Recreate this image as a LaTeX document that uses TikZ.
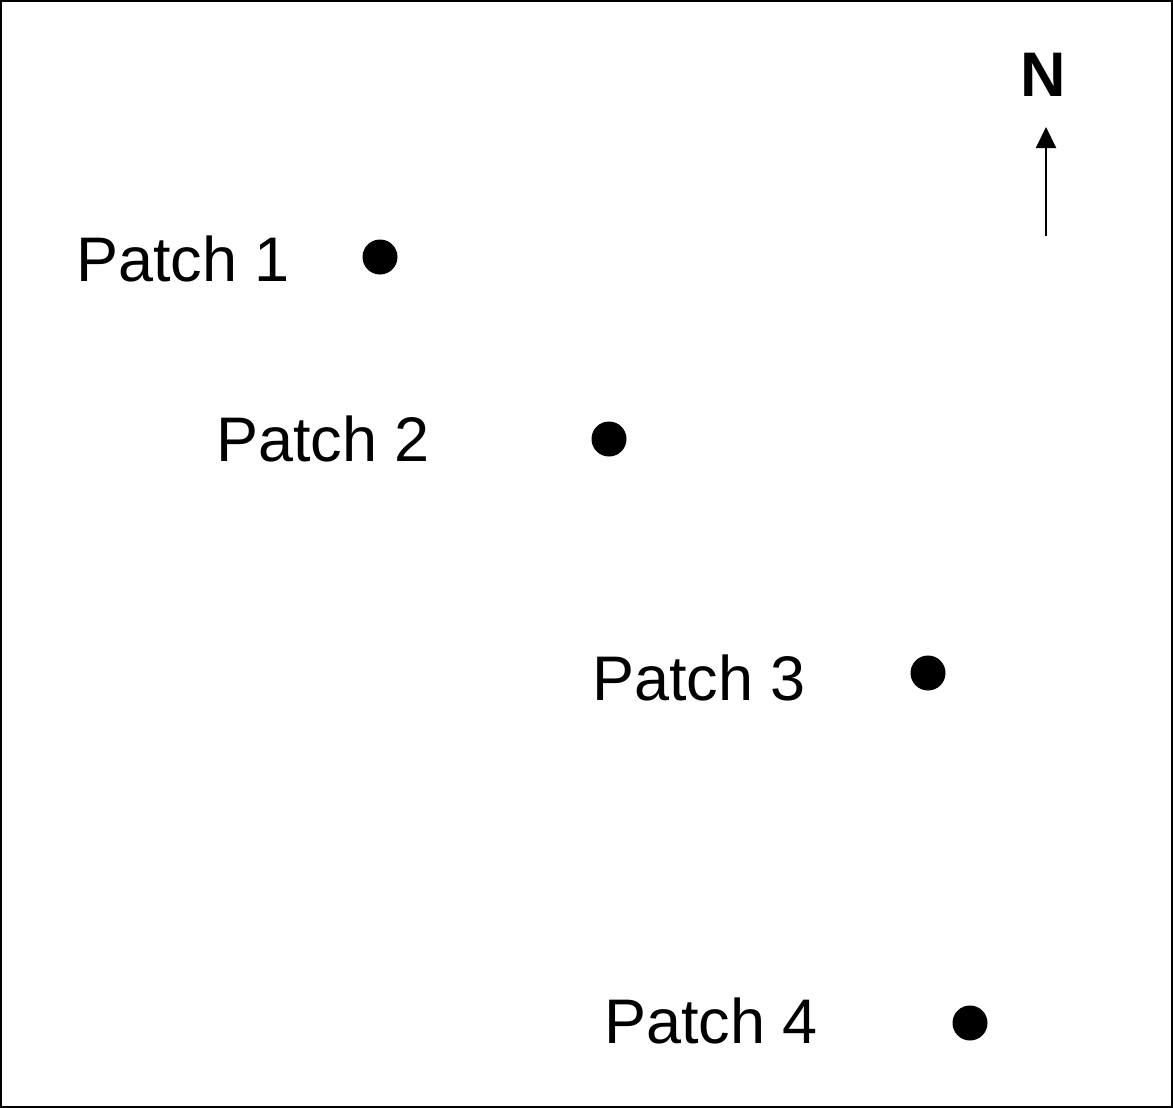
\documentclass[tikz,border=0pt]{standalone}
\usepackage{fontspec}
\setmainfont{Liberation Sans}
\usetikzlibrary{arrows.meta,positioning}

\begin{document}
\begin{tikzpicture}[x=1pt,y=-1pt,
        patch node/.style={circle,fill=black,minimum width=35pt,minimum height=33pt,inner sep=0pt},
        patch label/.style={anchor=base east,inner sep=0pt,font=\fontsize{63}{75}\selectfont}]

    \useasboundingbox (0,0) rectangle (1173,1108);
    \draw[line width=2pt] (1,1) rectangle (1172,1107);

    % patches
    \node[patch node] (p1) at (380,257) {};
    \node[patch node] (p2) at (609,439) {};
    \node[patch node] (p3) at (928,673) {};
    \node[patch node] (p4) at (970,1023) {};

    \node[patch label] (l1) at (290,281) {Patch 1};
    \node[patch label] (l2) at (430,461) {Patch 2};
    \node[patch label] (l3) at (806,700) {Patch 3};
    \node[patch label] (l4) at (818,1043) {Patch 4};

    % north arrow
    \node[anchor=base,inner sep=0pt,font=\fontsize{63}{75}\selectfont\bfseries] (north) at (1043,96) {N};
    \coordinate (tail) at (1046,236);
    \coordinate (head) at (1046,127);
    \draw[line width=2pt,-{Triangle[width=20pt,length=21pt]}] (tail) -- (head);

\end{tikzpicture}
\end{document}
